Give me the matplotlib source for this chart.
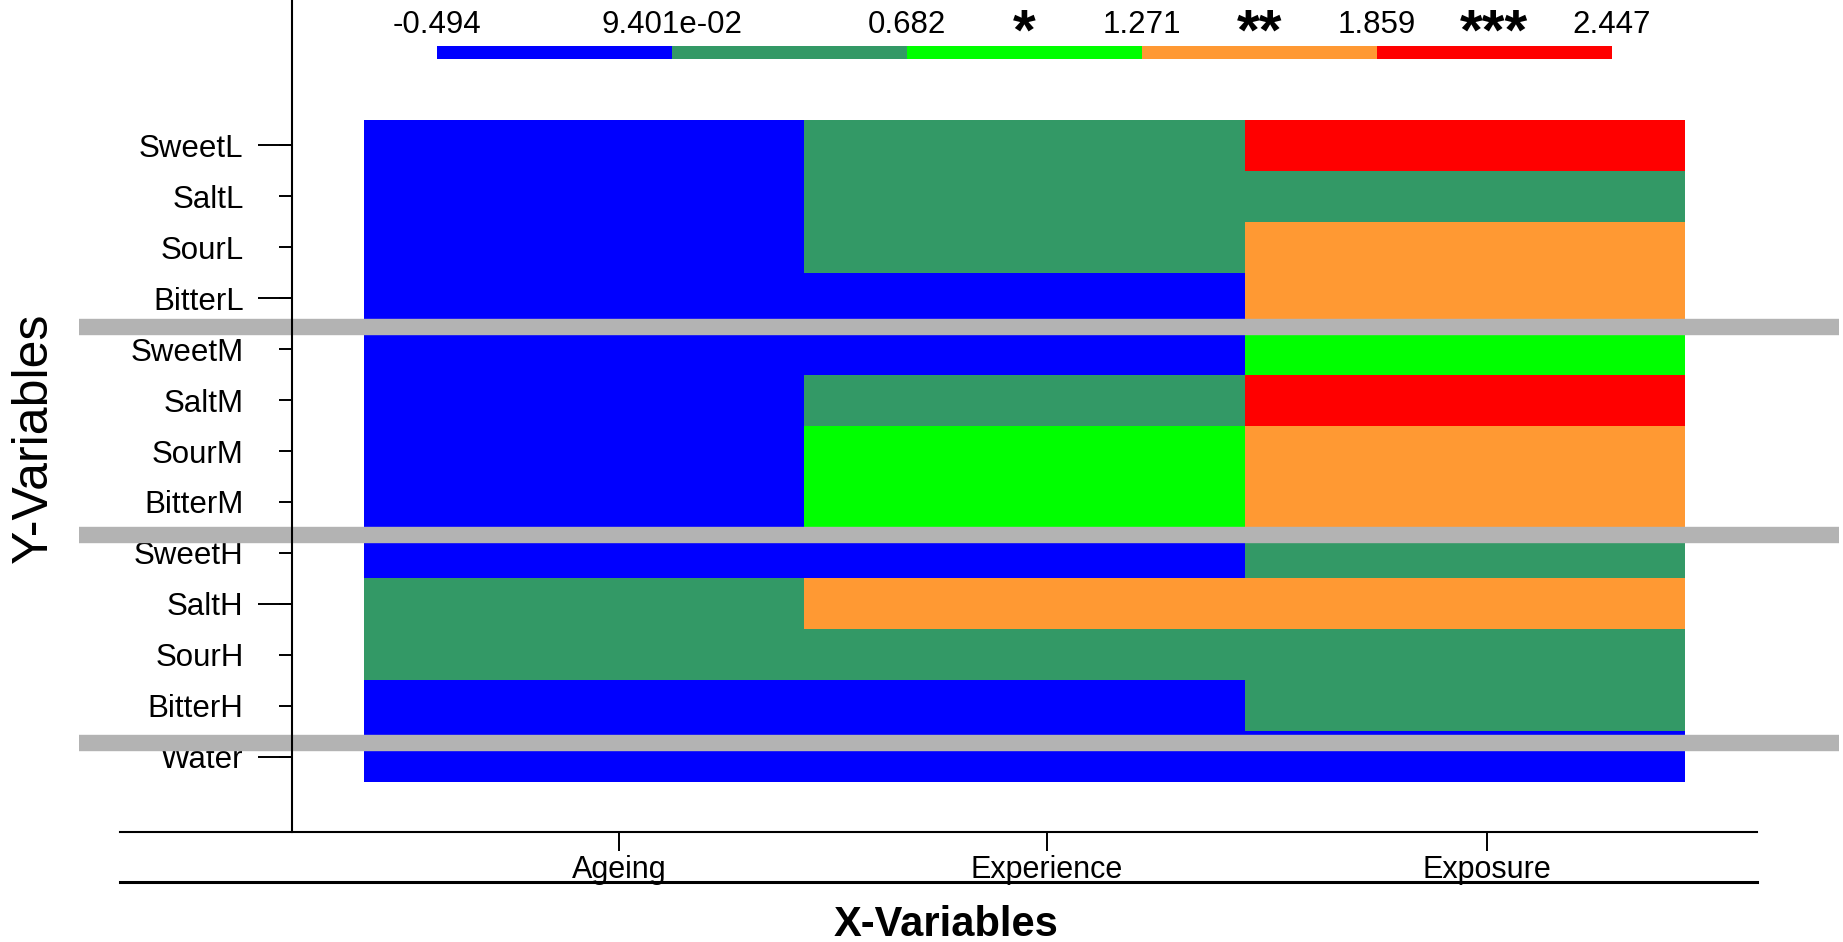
import matplotlib

matplotlib.use("Agg")
import matplotlib.pyplot as plt
import numpy as np
from matplotlib.colors import BoundaryNorm, ListedColormap
from matplotlib.lines import Line2D
from matplotlib.transforms import blended_transform_factory

plt.rcParams["font.family"] = ["Liberation Sans", "DejaVu Sans"]

# data
x_labels = ["Ageing", "Experience", "Exposure"]
y_labels = [
    "SweetL", "SaltL", "SourL", "BitterL",
    "SweetM", "SaltM", "SourM", "BitterM",
    "SweetH", "SaltH", "SourH", "BitterH",
    "Water",
]
ageing = [-0.12, -0.25, -0.18, -0.31, -0.40, -0.22, -0.15, -0.09, -0.494, 0.28, 0.19, -0.27, -0.35]
experience = [0.31, 0.45, 0.22, -0.05, 0.02, 0.38, 1.05, 0.88, -0.11, 1.35, 0.47, -0.02, -0.21]
exposure = [2.10, 0.52, 1.62, 1.48, 0.95, 2.447, 1.71, 1.55, 0.41, 1.44, 0.36, 0.58, 0.05]

bounds = [-0.494, 0.09401, 0.682, 1.271, 1.859, 2.447]
bound_labels = ["-0.494", "9.401e-02", "0.682", "1.271", "1.859", "2.447"]
stars = ["", "", "*", "**", "***"]
colors = ["#0000FF", "#339966", "#00FF00", "#FF9933", "#FF0000"]
long_ticks = ["SweetL", "BitterL", "SaltH", "Water"]
group_breaks = [4.07, 8.15, 12.24]
x_tick_pos = [0.58, 1.55, 2.55]

W, H = 1843, 942


def fx(px):
    return px / W


def fy(px):
    return 1 - px / H


fig = plt.figure(figsize=(W / 100, H / 100), dpi=100)

# heatmap
ax = fig.add_axes([fx(364), fy(782), (1685 - 364) / W, (782 - 120) / H])
z = np.column_stack([ageing, experience, exposure])
cmap = ListedColormap(colors)
norm = BoundaryNorm(bounds, cmap.N)
mesh = ax.pcolormesh(np.arange(len(x_labels) + 1), np.arange(len(y_labels) + 1), z,
                     cmap=cmap, norm=norm)
ax.set_xlim(0, len(x_labels))
ax.set_ylim(len(y_labels), 0)

for s in ax.spines.values():
    s.set_visible(False)
ax.spines["left"].set_position(("outward", 52))
ax.spines["bottom"].set_position(("outward", 35.8))

ax.set_yticks(np.arange(len(y_labels)) + 0.5, y_labels)
ax.set_yticks([y_labels.index(l) + 0.5 for l in long_ticks], minor=True)
ax.yaxis.remove_overlapping_locs = False
ax.tick_params(axis="y", which="major", length=9.4, width=1.4, pad=25.3, labelsize=22.5)
ax.tick_params(axis="y", which="minor", length=24.5, width=1.4)

ax.set_xticks(x_tick_pos, x_labels)
ax.tick_params(axis="x", length=13.7, width=1.4, pad=3, labelsize=22)

# grey group separators
trans = blended_transform_factory(fig.transFigure, ax.transData)
for b in group_breaks:
    fig.add_artist(Line2D([fx(79), fx(1839)], [b, b], transform=trans,
                          color="#B3B3B3", lw=11.8, solid_capstyle="butt", zorder=3))

# axis lines
fig.add_artist(Line2D([fx(291.7)] * 2, [fy(0), fy(831.7)], color="black", lw=1.5, zorder=4))
fig.add_artist(Line2D([fx(120), fx(1757)], [fy(831.7)] * 2, color="black", lw=1.5, zorder=4))
fig.add_artist(Line2D([fx(120), fx(1757)], [fy(882.3)] * 2, color="black", lw=2.2, zorder=4))

fig.text(fx(34), fy(438), "Y-Variables", rotation=90, ha="center", va="center", fontsize=36)
fig.text(fx(946), fy(936), "X-Variables", ha="center", va="baseline", fontsize=30,
         fontweight="bold")

# colour key
cax = fig.add_axes([fx(436.7), fy(58.7), (1611.7 - 436.7) / W, 12.7 / H])
cb = fig.colorbar(mesh, cax=cax, orientation="horizontal")
cb.set_ticks(bounds, labels=bound_labels)
cb.minorticks_off()
cb.outline.set_visible(False)
cax.xaxis.set_ticks_position("top")
cax.tick_params(length=0, pad=4.3, labelsize=22.5)

star_trans = blended_transform_factory(cax.transData, fig.transFigure)
for i, s in enumerate(stars):
    if s:
        fig.text((bounds[i] + bounds[i + 1]) / 2, fy(50), s, transform=star_trans,
                 ha="center", va="baseline", fontsize=42, fontweight="bold")

plt.savefig("out.png", dpi=100)
plt.close()
